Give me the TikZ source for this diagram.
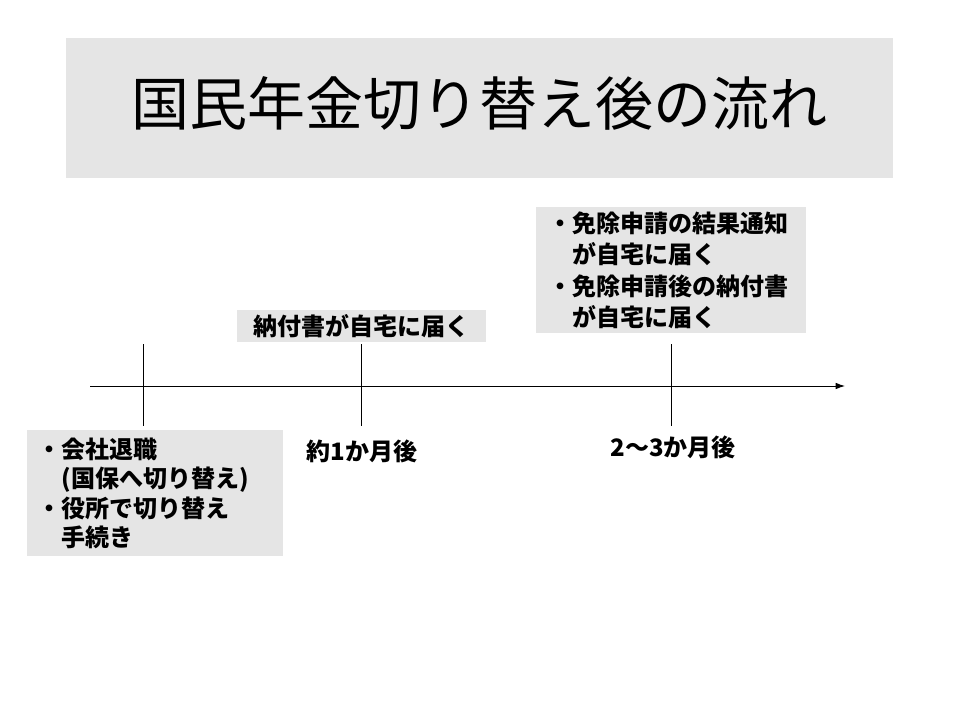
\documentclass[tikz,border=0pt]{standalone}
\usepackage{fontspec}
\setmainfont{Noto Sans CJK JP}
\usetikzlibrary{arrows.meta,positioning}

\begin{document}
\begin{tikzpicture}[x=0.75pt,y=-0.75pt,
    box/.style={fill=gray!20, inner sep=0pt},
    note/.style={box, anchor=north west, align=left, minimum height=94.5pt, font=\bfseries\fontsize{18}{22}\selectfont},
    when/.style={font=\bfseries\fontsize{18}{22}\selectfont}]
    \useasboundingbox (0,0) rectangle (960,720);
    \fill[white] (0,0) rectangle (960,720);

    % title
    \node[box, minimum width=620.25pt, minimum height=105pt] (titlebox) at (479.5,108) {};
    \node[font=\fontsize{43.5}{50}\selectfont, yshift=3.5pt] (title) at (titlebox.center) {国民年金切り替え後の流れ};

    % time axis and ticks
    \coordinate (ax0) at (90,386); \coordinate (ax1) at (845,386);
    \draw[line width=0.75pt, -{Latex[length=7pt,width=5pt]}] (ax0) -- (ax1);
    \foreach \n/\x in {quit/143, bill/361, result/671} {
        \coordinate (\n top) at (\x,344); \coordinate (\n bot) at (\x,426);
        \draw[line width=0.75pt] (\n top) -- (\n bot);
    }

    % boxes
    \node[note, inner xsep=8pt, text width=176pt, font=\bfseries\fontsize{18}{22}\selectfont] (quitbox) at (27,430)
        {・会社退職\\\hphantom{・}(国保へ切り替え)\\・役所で切り替え\\\hphantom{・}手続き};
    \node[box, minimum width=186.75pt, minimum height=24pt, font=\bfseries\fontsize{18}{22}\selectfont] (billbox) at (361.5,326) {納付書が自宅に届く};
    \node[note, inner xsep=9pt, text width=184.5pt, font=\bfseries\fontsize{18}{23.6}\selectfont] (resultbox) at (536,207)
        {・免除申請の結果通知\\\hphantom{・}が自宅に届く\\・免除申請後の納付書\\\hphantom{・}が自宅に届く};

    % labels
    \node[when] (month1) at (362,451) {約1か月後};
    \node[when] (month23) at (673,447) {2～3か月後};
\end{tikzpicture}
\end{document}
